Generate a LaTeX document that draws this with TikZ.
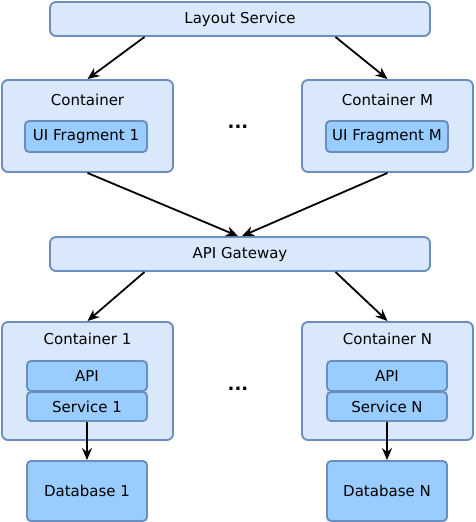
\documentclass[tikz,border=0pt]{standalone}
\usepackage{fontspec}
\setmainfont{DejaVu Sans}
\usetikzlibrary{arrows.meta,calc}
\definecolor{outerfill}{HTML}{DAE8FC}
\definecolor{outerline}{HTML}{6C8EBF}
\definecolor{innerfill}{HTML}{99CCFF}
\tikzset{
  box/.style      = {shape=rectangle, rounded corners=6pt, draw=outerline,
                     line width=1.9pt, fill=outerfill, inner sep=0pt,
                     font=\fontsize{15}{17}\selectfont},
  service/.style  = {box, minimum width=380, minimum height=34},
  container/.style= {box, minimum width=171},
  part/.style     = {box, fill=innerfill, rounded corners=4pt, minimum width=120},
  title/.style    = {font=\fontsize{15}{17}\selectfont},
  link/.style     = {-{Stealth[length=12pt,width=10pt]}, line width=1.8pt}
}
\begin{document}
\begin{tikzpicture}[x=1pt,y=-1pt]
  \useasboundingbox (0,0) rectangle (475,522);

  % upper part
  \node [service] (layout) at (240,19) {Layout Service};
  \node [container, minimum height=92] (cont) at (87.5,126) {};
  \node [title] (contT) at (87.5,100) {Container};
  \node [part, minimum width=122, minimum height=31] (frag1) at (86,136.5) {UI Fragment 1};
  \node [container, minimum height=92] (contM) at (387.5,126) {};
  \node [title] (contMT) at (387.5,100) {Container M};
  \node [part, minimum width=122, minimum height=31] (fragM) at (387,136.5) {UI Fragment M};
  \node [font=\fontsize{18}{19}\selectfont\bfseries] (dotsA) at (238,127) {...};

  % lower part
  \node [service] (gateway) at (240,254) {API Gateway};
  \node [container, minimum height=118] (cont1) at (87.5,381) {};
  \node [title] (cont1T) at (87.5,339) {Container 1};
  \node [part, minimum height=30] (api1) at (87,376) {API};
  \node [part, minimum height=29] (svc1) at (87,406.5) {Service 1};
  \node [part, minimum height=60] (db1) at (87,491) {Database 1};
  \node [container, minimum height=118] (contN) at (387.5,381) {};
  \node [title] (contNT) at (387.5,339) {Container N};
  \node [part, minimum height=30] (apiN) at (387,376) {API};
  \node [part, minimum height=29] (svcN) at (387,406.5) {Service N};
  \node [part, minimum height=60] (dbN) at (387,491) {Database N};
  \node [font=\fontsize{18}{19}\selectfont\bfseries] (dotsB) at (238,389) {...};

  % connectors
  \draw [link] ($(layout.south west)!0.25!(layout.south east)$) -- (cont.north);
  \draw [link] ($(layout.south west)!0.75!(layout.south east)$) -- (contM.north);
  \draw [link] (cont.south) -- ([xshift=-2]gateway.north);
  \draw [link] (contM.south) -- ([xshift=2]gateway.north);
  \draw [link] ($(gateway.south west)!0.25!(gateway.south east)$) -- (cont1.north);
  \draw [link] ($(gateway.south west)!0.75!(gateway.south east)$) -- (contN.north);
  \draw [link] (svc1.south) -- (db1.north);
  \draw [link] (svcN.south) -- (dbN.north);
\end{tikzpicture}
\end{document}
